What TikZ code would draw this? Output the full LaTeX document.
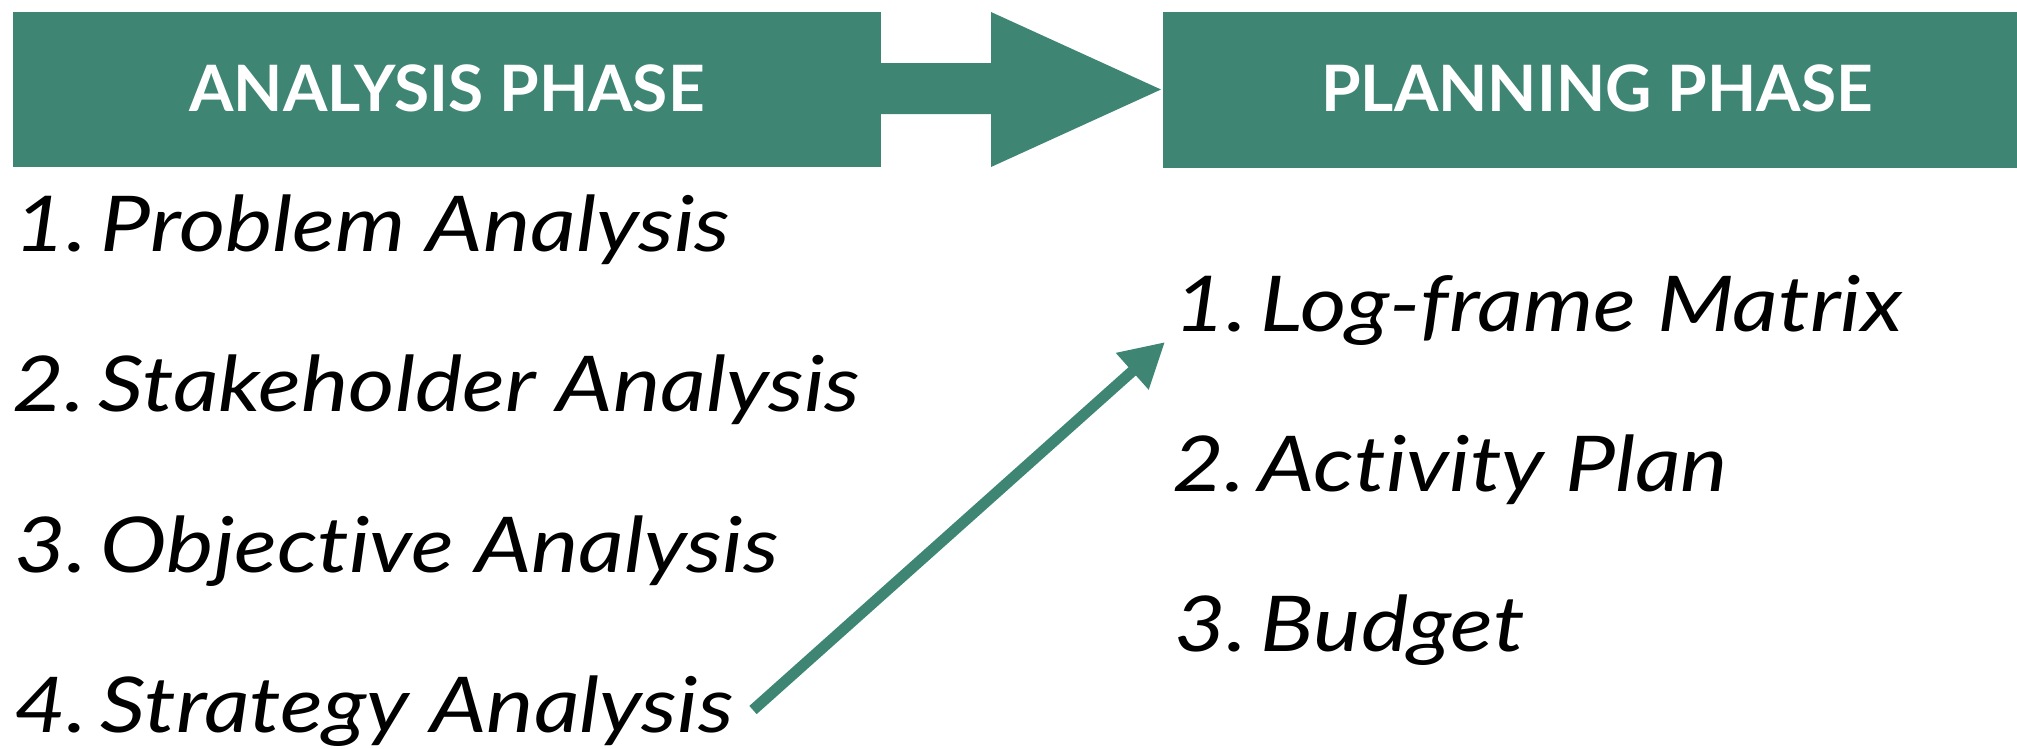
\documentclass[tikz,border=0pt]{standalone}
\usepackage{fontspec}
\setmainfont{Lato}
\newfontfamily\bodyfont{Lato}[FakeStretch=1.16, Ligatures=NoCommon]
\usetikzlibrary{arrows.meta}
\definecolor{teal}{HTML}{3E8574}
\newcommand{\itemline}[2]{#1\kern-7pt\ #2}
\tikzset{
  phasebox/.style={fill=teal, draw=none},
  phasetext/.style={inner sep=0pt, anchor=base, text=white, font=\bfseries\fontsize{64}{70}\selectfont},
  itemtext/.style={inner sep=0pt, anchor=base west, text=black, font=\bodyfont\itshape\fontsize{77}{90}\selectfont},
  linkarrow/.style={draw=teal, line width=11pt, -{Triangle[length=44pt,width=46pt]}}
}
\begin{document}
\begin{tikzpicture}[x=1pt,y=-1pt]
\useasboundingbox (0,0) rectangle (2017,748);
% header boxes
\fill[phasebox] (13,12) rectangle (881,167);
\fill[phasebox] (1163,12) rectangle (2017,168);
% big block arrow
\fill[phasebox] (880,63) -- (991,63) -- (991,12) -- (1161,89.5) -- (991,167) -- (991,114) -- (880,114) -- cycle;
\node[phasetext] (h1) at (447,111) {ANALYSIS PHASE};
\node[phasetext] (h2) at (1597,111) {PLANNING PHASE};
% left list
\node[itemtext] (a1) at (14,251) {\itemline{1.}{Problem Analysis}};
\node[itemtext] (a2) at (12,411) {\itemline{2.}{Stakeholder Analysis}};
\node[itemtext] (a3) at (14,572) {\itemline{3.}{Objective Analysis}};
\node[itemtext] (a4) at (14,732) {\itemline{4.}{Strategy Analysis}};
% right list
\node[itemtext] (b1) at (1174,331) {\itemline{1.}{Log-frame Matrix}};
\node[itemtext] (b2) at (1172,491) {\itemline{2.}{Activity Plan}};
\node[itemtext] (b3) at (1174,651) {\itemline{3.}{Budget}};
% connector
\coordinate (from) at (753,710);
\coordinate (to) at (1165,342);
\draw[linkarrow] (from) -- (to);
\end{tikzpicture}
\end{document}
